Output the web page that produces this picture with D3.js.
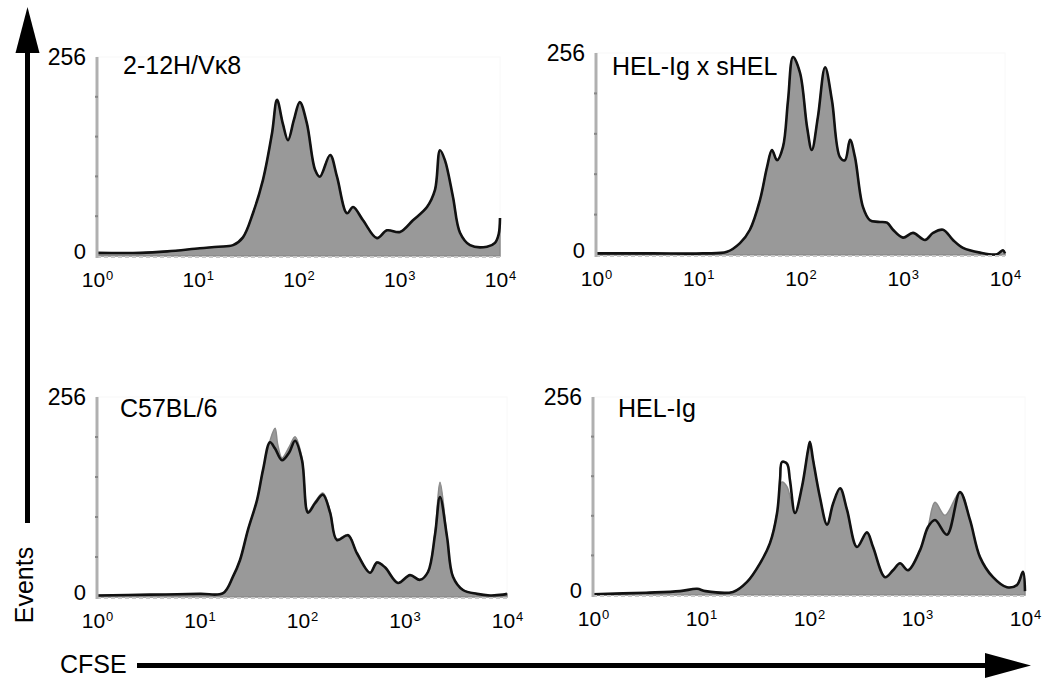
<!DOCTYPE html>
<html>
<head>
<meta charset="utf-8">
<script src="https://cdn.jsdelivr.net/npm/d3@7"></script>
<style>
  body { margin: 0; background: #fff; }
  svg { display: block; font-family: "Liberation Sans", Arial, sans-serif; }
</style>
</head>
<body>
<div id="chart"></div>
<script>
// CFSE dilution histograms, four strains

// ---------- Data ----------
const panelNames = ['2-12H/V\u03BA8', 'HEL-Ig x sHEL', 'C57BL/6', 'HEL-Ig'];
const xTickValues = [1, 10, 100, 1000, 10000];
const yTickValues = [0, 256];

// [CFSE intensity, events]  - gray filled histogram
const fillA = [[1,4],[2.7,4],[5,6],[10.5,10],[16,12],[22.4,14],[28.1,24],[35.3,55],[44.4,98],[54.6,158],[61.2,201],[70,170],[78.7,149],[90,175],[103,198],[121,171],[146,111],[163,102],[206,130],[241,102],[303,55],[348,63],[437,46],[601,23],[755,33],[1017,31],[1368,46],[1885,63],[2263,85],[2537,136],[2844,123],[3414,76],[4009,30],[5038,14],[7430,12],[8920,17],[9700,28],[10000,49]];
const fillB = [[1,2],[3.6,2],[11.1,2],[19.1,4],[25.6,15],[32,32],[40.2,70],[47,111],[52.6,133],[58.9,120],[67.4,137],[75.5,196],[84.5,251],[98.9,231],[116,162],[129,133],[148,175],[174,238],[203,196],[243,124],[272,120],[305,146],[341,124],[408,61],[478,44],[573,42],[702,41],[803,32],[1005,22],[1260,28],[1650,19],[1977,28],[2476,32],[3100,19],[3884,9],[5700,3],[8350,1],[9550,6],[10000,2]];
const fillC = [[1,2],[3.3,3],[10.1,4],[17,5],[21.2,26],[24.8,47],[29.7,86],[36.4,124],[41.7,163],[48.7,200],[54.6,216],[58,195],[63.8,178],[75,192],[85.5,205],[100,178],[114.5,110],[134,122],[160,133],[188,110],[219,74],[281,80],[344,56],[461,31],[539,45],[645,38],[864,18],[1132,28],[1416,22],[1694,32],[1985,82],[2220,147],[2600,77],[2972,26],[3722,9],[5097,4],[6826,2],[9140,3],[10000,4]];
const fillD = [[1,1],[3.1,3],[6.4,5],[9.2,8],[11,5],[19.8,4],[26.7,17],[35.2,41],[43.5,67],[50.6,106],[56.2,146],[62.5,140],[74.2,106],[86.1,140],[97.9,187],[102,198],[109,175],[126,127],[147,91],[167,118],[194,138],[225,110],[278,62],[344,81],[392,62],[506,23],[600,32],[697,41],[826,32],[1067,58],[1265,88],[1468,120],[1816,103],[2500,133],[3096,97],[3830,49],[5055,23],[6810,10],[8430,13],[9575,30],[10000,5]];

// [CFSE intensity, events]  - black overlay histogram
const lineA = fillA;
const lineB = fillB;
const lineC = [[1,2],[3.3,3],[10.1,4],[17,5],[21.2,26],[24.8,47],[29.7,86],[36.4,124],[41.7,163],[48.7,198],[54.6,190],[63.8,175],[75,185],[85.5,200],[100,175],[114.5,108],[134,120],[160,131],[188,108],[219,73],[281,79],[344,56],[461,31],[539,44],[645,38],[864,18],[1132,28],[1416,22],[1694,32],[1985,80],[2220,128],[2600,77],[2972,26],[3722,9],[5097,4],[6826,2],[9140,3],[10000,4]];
const lineD = [[1,1],[3.1,3],[6.4,5],[9.2,8],[11,5],[19.8,4],[26.7,17],[35.2,41],[43.5,67],[50.6,106],[54,150],[56.2,172],[62.5,170],[66.7,148],[74.2,106],[86.1,140],[97.9,187],[102,198],[109,175],[126,127],[147,91],[167,118],[194,138],[225,110],[278,62],[344,81],[392,62],[506,23],[600,32],[697,41],[826,32],[1067,58],[1265,88],[1468,97],[1896,78],[2500,133],[3096,97],[3830,49],[5055,23],[6810,10],[8430,13],[9575,30],[10000,5]];

const fills = [fillA, fillB, fillC, fillD];
const lines = [lineA, lineB, lineC, lineD];

// ---------- Layout ----------
const width = 1044, height = 681;
// plot box of each panel: left, right, top, bottom (pixels) + title spot
const boxes = [
  { x0: 97,  x1: 500,  top: 57,  base: 256, tx: 123, ty: 74 },
  { x0: 596, x1: 1005, top: 53,  base: 255, tx: 612, ty: 75 },
  { x0: 97,  x1: 507,  top: 397, base: 597, tx: 120, ty: 417 },
  { x0: 593, x1: 1025, top: 397, base: 595, tx: 618, ty: 417 }
];

const svg = d3.select('#chart').append('svg')
  .attr('width', width)
  .attr('height', height);

svg.append('rect').attr('width', width).attr('height', height).attr('fill', '#fff');

// Draw one histogram panel
function drawPanel(idx) {
  const b = boxes[idx];
  const x = d3.scaleLog().domain([1, 10000]).range([b.x0, b.x1]);
  const y = d3.scaleLinear().domain([0, 256]).range([b.base, b.top]);
  const g = svg.append('g');

  // very faint frame
  g.append('rect')
    .attr('x', b.x0).attr('y', b.top)
    .attr('width', b.x1 - b.x0).attr('height', b.base - b.top)
    .attr('fill', 'none').attr('stroke', '#f8f8f8').attr('stroke-width', 1);

  const curve = d3.curveCatmullRom.alpha(0.5);

  const area = d3.area()
    .x(d => x(d[0]))
    .y0(y(0))
    .y1(d => y(d[1]))
    .curve(curve);

  const line = d3.line()
    .x(d => x(d[0]))
    .y(d => y(d[1]))
    .curve(curve);

  g.append('path')
    .datum(fills[idx])
    .attr('d', area)
    .attr('fill', '#999')
    .attr('stroke', '#8a8a8a')
    .attr('stroke-width', 1.5);

  g.append('path')
    .datum(lines[idx])
    .attr('d', line)
    .attr('fill', 'none')
    .attr('stroke', '#111')
    .attr('stroke-width', 2.6)
    .attr('stroke-linejoin', 'round');

  // baseline (dotted, light)
  g.append('line')
    .attr('x1', b.x0).attr('x2', b.x1)
    .attr('y1', b.base + 1).attr('y2', b.base + 1)
    .attr('stroke', '#c8c8c8').attr('stroke-width', 2)
    .attr('stroke-dasharray', '4,3');

  // left axis line with small ticks
  g.append('line')
    .attr('x1', b.x0).attr('x2', b.x0)
    .attr('y1', b.top).attr('y2', b.base + 2)
    .attr('stroke', '#b0b0b0').attr('stroke-width', 3);

  g.selectAll('.ytick')
    .data(d3.range(1, 5).map(k => k * 256 / 5))
    .enter().append('line')
    .attr('x1', b.x0 - 2).attr('x2', b.x0 + 1)
    .attr('y1', d => y(d)).attr('y2', d => y(d))
    .attr('stroke', '#888').attr('stroke-width', 2);

  // x axis tick labels 10^n
  const xAxis = g.append('g')
    .attr('transform', `translate(0,${b.base})`)
    .call(d3.axisBottom(x).tickValues(xTickValues).tickSize(0));
  xAxis.select('.domain').remove();
  xAxis.selectAll('.tick text')
    .attr('y', 31).attr('dy', null)
    .attr('fill', '#000')
    .style('font-size', '21px')
    .attr('font-family', null)
    .each(function(d) {
      const t = d3.select(this).text('');
      t.append('tspan').text('10');
      t.append('tspan')
        .attr('dx', 1).attr('dy', -7)
        .style('font-size', '13px')
        .text(Math.round(Math.log10(d)));
    });

  // y axis labels 0 / 256
  const yAxis = g.append('g')
    .attr('transform', `translate(${b.x0},0)`)
    .call(d3.axisLeft(y).tickValues(yTickValues).tickSize(0).tickPadding(11));
  yAxis.select('.domain').remove();
  yAxis.selectAll('.tick text')
    .attr('fill', '#000')
    .attr('font-family', null)
    .style('font-size', d => d === 0 ? '22px' : '23px')
    .attr('transform', d => d === 0 ? 'translate(0,-5)' : null);

  // panel title
  g.append('text')
    .attr('x', b.tx).attr('y', b.ty)
    .style('font-size', '25px')
    .text(panelNames[idx]);
}

d3.range(4).forEach(drawPanel);

// ---------- Big axis arrows ----------
// Events (vertical)
svg.append('line')
  .attr('x1', 27.5).attr('x2', 27.5)
  .attr('y1', 523).attr('y2', 48)
  .attr('stroke', '#000').attr('stroke-width', 5);
svg.append('polygon')
  .attr('points', '27.5,7 15.5,53 39.5,53')
  .attr('fill', '#000');
svg.append('text')
  .attr('transform', 'translate(33,585) rotate(-90)')
  .attr('text-anchor', 'middle')
  .style('font-size', '25px')
  .text('Events');

// CFSE (horizontal)
svg.append('text')
  .attr('x', 60).attr('y', 673)
  .style('font-size', '25px')
  .text('CFSE');
svg.append('line')
  .attr('x1', 137).attr('x2', 990)
  .attr('y1', 665.5).attr('y2', 665.5)
  .attr('stroke', '#000').attr('stroke-width', 5);
svg.append('polygon')
  .attr('points', '1031,665.5 985,653 985,678')
  .attr('fill', '#000');
</script>
</body>
</html>
